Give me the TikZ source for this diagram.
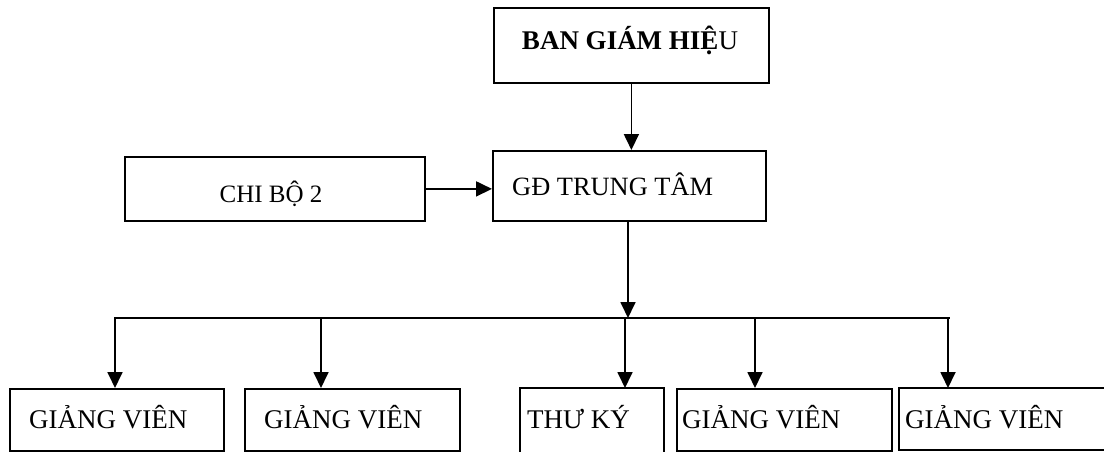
\documentclass[tikz,border=0pt]{standalone}
\usepackage{fontspec}
\setmainfont{Liberation Serif}
\usetikzlibrary{arrows.meta}
\tikzset{
  box/.style={draw, line width=1.8pt, inner sep=0pt, anchor=north west},
  txt/.style={inner sep=0pt, anchor=base west, font=\fontsize{27}{30}\selectfont},
  conn/.style={line width=1.8pt},
  arr/.style={line width=1.8pt, -{Triangle[length=16pt,width=15pt]}, shorten >=0pt},
}
\begin{document}
\begin{tikzpicture}[x=1pt,y=-1pt]
\useasboundingbox (0,0) rectangle (1104,452);
% top
\node[box, minimum width=275pt, minimum height=75pt] (bgh) at (493,7) {};
\node[inner sep=0pt, anchor=base, font=\fontsize{27}{30}\selectfont] (bghtxt) at (630,50) {\bfseries BAN GIÁM HIỆ\mdseries U};
% GD
\node[box, minimum width=273pt, minimum height=70pt] (gd) at (492,150) {};
\node[txt, font=\fontsize{26.4}{30}\selectfont] (gdtxt) at (512,195) {GĐ TRUNG TÂM};
% chi bo
\node[box, minimum width=300pt, minimum height=64pt] (cb) at (124,156) {};
\node[txt, anchor=base, font=\fontsize{25}{30}\selectfont] (cbtxt) at (271,202) {CHI BỘ 2};
% connectors top
\draw[arr] (bgh.south) -- (bgh.south |- gd.north);
\draw[arr] (cb.east) -- (cb.east -| gd.west);
\coordinate (busc) at (628,318);
\draw[arr] (gd.south -| busc) -- (busc);
% bus
\coordinate (t1) at (115,318);
\coordinate (t2) at (321,318);
\coordinate (t3) at (625,318);
\coordinate (t4) at (755,318);
\coordinate (t5) at (948,318);
\coordinate (busr) at (950,318);
\draw[conn] ([yshift=-2pt]t1) -- (t1) -- (busr);
% bottom boxes
\node[box, minimum width=214pt, minimum height=62pt] (g1) at (9,388) {};
\node[box, minimum width=215pt, minimum height=62pt] (g2) at (244,388) {};
\coordinate (tk) at (520,388);
\coordinate (tkr) at (664,388);
\draw[conn] (520,454) -- (tk) -- (tkr) -- (664,454);
\node[box, minimum width=215pt, minimum height=62pt] (g4) at (676,388) {};
\coordinate (g5) at (899,388);
\draw[conn] (1106,388) -- (g5) -- (899,450) -- (1106,450);
\node[txt] (g1txt) at (29,428) {GIẢNG VIÊN};
\node[txt] (g2txt) at (264,428) {GIẢNG VIÊN};
\node[txt] (tktxt) at (527,428) {THƯ KÝ};
\node[txt] (g4txt) at (682,428) {GIẢNG VIÊN};
\node[txt] (g5txt) at (905,428) {GIẢNG VIÊN};
% drops
\draw[arr] (t1) -- (t1 |- g1.north);
\draw[arr] (t2) -- (t2 |- g2.north);
\draw[arr] (t3) -- (t3 |- tk);
\draw[arr] (t4) -- (t4 |- g4.north);
\draw[arr] (t5) -- (t5 |- g5);
\end{tikzpicture}
\end{document}
